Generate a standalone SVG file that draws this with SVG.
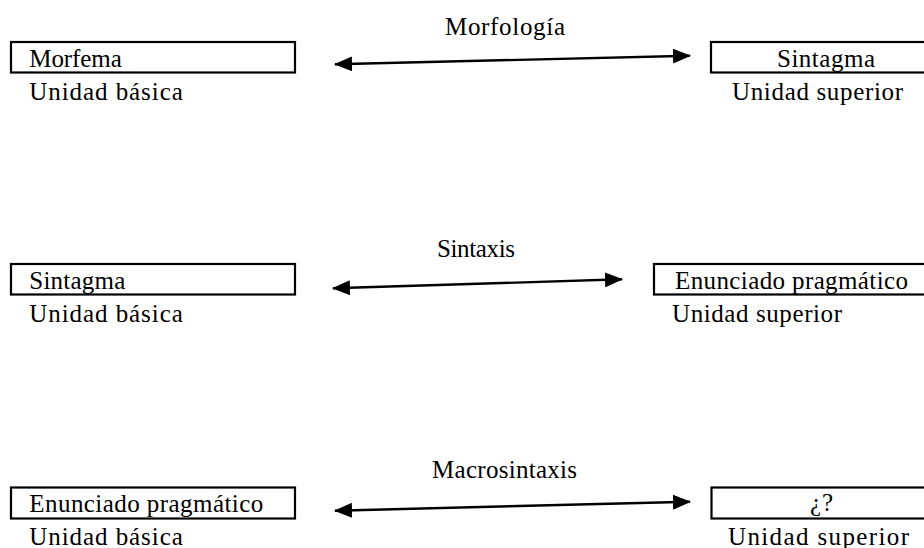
<svg xmlns="http://www.w3.org/2000/svg" width="924" height="548" viewBox="0 0 924 548">
  <style>
    text { font-family: "Liberation Serif", "Times New Roman", serif; font-size: 25px; fill: #000; }
    .box { fill: #fff; stroke: #000; stroke-width: 2.2; }
    .conn { stroke: #000; stroke-width: 2.4; fill: none; marker-start: url(#ah); marker-end: url(#ah); }
  </style>
  <defs>
    <marker id="ah" markerUnits="userSpaceOnUse" markerWidth="18" markerHeight="15" viewBox="0 0 18 15" refX="17" refY="7.5" orient="auto-start-reverse">
      <path d="M0,0 L18,7.5 L0,15 z" fill="#000"/>
    </marker>
  </defs>
  <rect width="924" height="548" fill="#fff"/>

  <g id="connectors">
    <line class="conn" x1="335" y1="64.3" x2="690" y2="55.7"/>
    <line class="conn" x1="333" y1="288.3" x2="622" y2="279.3"/>
    <line class="conn" x1="335" y1="510.7" x2="690" y2="501.7"/>
    <text x="445" y="35" textLength="120" lengthAdjust="spacing">Morfología</text>
    <text x="437" y="256.7" textLength="78" lengthAdjust="spacing">Sintaxis</text>
    <text x="432" y="478" textLength="145" lengthAdjust="spacing">Macrosintaxis</text>
  </g>

  <g id="morfema">
    <rect class="box" x="11" y="42" width="284" height="30.5"/>
    <text x="29.3" y="66.5" textLength="92.5" lengthAdjust="spacing">Morfema</text>
    <text x="29.3" y="100" textLength="153.5" lengthAdjust="spacing">Unidad básica</text>
  </g>
  <g id="sintagma1">
    <rect class="box" x="711" y="42" width="220" height="30.5"/>
    <text x="777" y="66.5" textLength="98" lengthAdjust="spacing">Sintagma</text>
    <text x="732" y="100" textLength="171" lengthAdjust="spacing">Unidad superior</text>
  </g>

  <g id="sintagma2">
    <rect class="box" x="11" y="264" width="284" height="30.5"/>
    <text x="29.3" y="288.5" textLength="96" lengthAdjust="spacing">Sintagma</text>
    <text x="29.3" y="321.5" textLength="153.5" lengthAdjust="spacing">Unidad básica</text>
  </g>
  <g id="enunciado1">
    <rect class="box" x="654" y="264" width="280" height="30.5"/>
    <text x="675" y="288.5" textLength="233" lengthAdjust="spacing">Enunciado pragmático</text>
    <text x="672" y="321.5" textLength="170" lengthAdjust="spacing">Unidad superior</text>
  </g>

  <g id="enunciado2">
    <rect class="box" x="11" y="487.5" width="284" height="31"/>
    <text x="29.3" y="511.5" textLength="234" lengthAdjust="spacing">Enunciado pragmático</text>
    <text x="29.3" y="544.5" textLength="153.5" lengthAdjust="spacing">Unidad básica</text>
  </g>
  <g id="incognita">
    <rect class="box" x="711.5" y="487.5" width="220" height="31"/>
    <text x="810" y="511" textLength="23" lengthAdjust="spacing">¿?</text>
    <text x="728" y="544.5" textLength="181" lengthAdjust="spacing">Unidad superior</text>
  </g>
</svg>
